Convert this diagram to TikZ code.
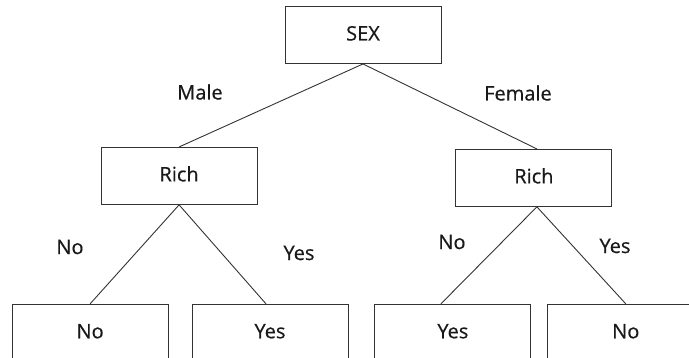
\documentclass[tikz,border=0pt]{standalone}
\usepackage{fontspec}
\setmainfont{Open Sans}[FakeBold=0.5]
\usetikzlibrary{positioning}

\begin{document}
\begin{tikzpicture}[x=1pt,y=-1pt,
box/.style={draw=black!80,line width=0.9pt,minimum width=156pt,minimum height=57pt,
  text=black!90,text height=15pt,text depth=4pt,font=\fontsize{20}{24}\selectfont},
lbl/.style={text=black!90,font=\fontsize{20}{24}\selectfont},
edge/.style={draw=black!80,line width=0.9pt}]
\useasboundingbox (0,0) rectangle (689,358);

\node(sex)		[box] at (363,35)
{SEX};
\node(richL)	[box, below left=83pt and 27pt of sex]
{Rich};
\node(richR)	[box, below right=85pt and 14pt of sex]
{Rich};

\node(no1)		[box, below=99pt of richL, xshift=-89pt]
{No};
\node(yes1)		[box, right=23pt of no1]
{Yes};
\node(yes2)		[box, right=26pt of yes1]
{Yes};
\node(no2)		[box, right=16pt of yes2]
{No};

\node(male)		[lbl] at (200,92) {Male};
\node(female)	[lbl] at (518,93) {Female};
\node(noL)		[lbl] at (70,247) {No};
\node(yesL)		[lbl] at (299,253) {Yes};
\node(noR)		[lbl] at (452,242) {No};
\node(yesR)		[lbl] at (615,246) {Yes};

\draw[edge](sex.south)   -- (richL.north);
\draw[edge](sex.south)   -- ([xshift=3pt]richR.north);
\draw[edge](richL.south) -- (no1.north);
\draw[edge](richL.south) -- ([xshift=-4pt]yes1.north);
\draw[edge]([xshift=3pt]richR.south) -- ([xshift=-12pt]yes2.north);
\draw[edge]([xshift=3pt]richR.south) -- (no2.north);
\end{tikzpicture}
\end{document}
